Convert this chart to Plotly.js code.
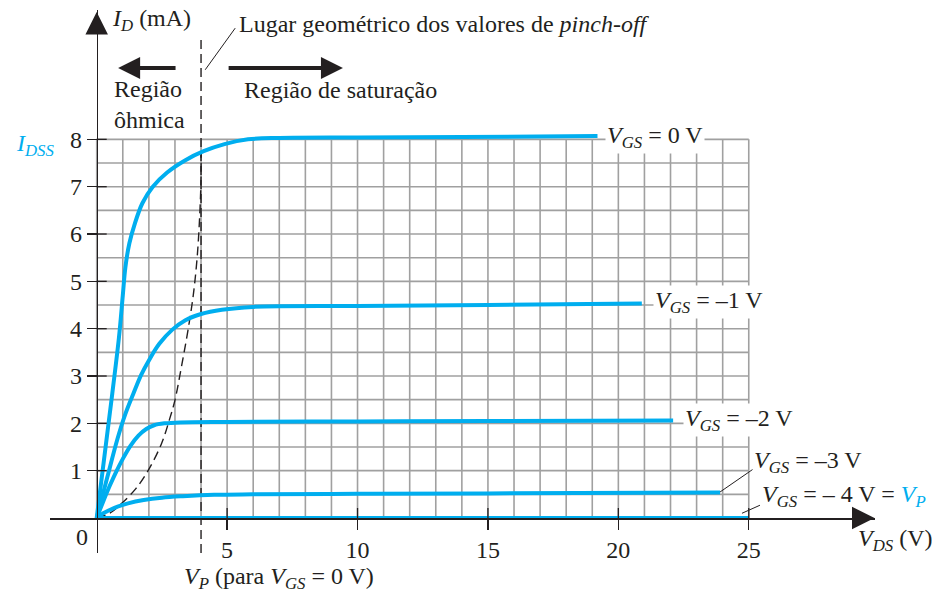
<!DOCTYPE html>
<html>
<head>
<meta charset="utf-8">
<script src="https://cdn.plot.ly/plotly-3.0.1.min.js"></script>
<style>html,body{margin:0;padding:0;background:#fff;}#chart{width:932px;height:593px;}</style>
</head>
<body>
<div id="chart"></div>
<script>
// ---- data ----
const vdsVgs0 = [0, 0.5, 0.85, 1.0, 1.1, 1.25, 1.45, 1.75, 2.15, 2.7, 3.4, 4.1, 4.9, 5.8, 7, 10, 14, 19.2];
const idVgs0  = [0, 2.2, 3.8, 4.7, 5.3, 5.8, 6.2, 6.65, 7.0, 7.3, 7.56, 7.75, 7.9, 8.0, 8.03, 8.04, 8.05, 8.07];

const vdsVgs1 = [0, 0.4, 0.8, 1.1, 1.4, 1.7, 2.0, 2.4, 2.9, 3.4, 4.0, 4.8, 6, 10, 15, 20.9];
const idVgs1  = [0, 0.85, 1.68, 2.2, 2.62, 3.02, 3.33, 3.68, 3.98, 4.18, 4.31, 4.4, 4.46, 4.48, 4.5, 4.53];

const vdsVgs2 = [0, 0.25, 0.5, 0.75, 1.0, 1.3, 1.6, 1.9, 2.2, 2.6, 3.2, 5, 10, 15, 22.1];
const idVgs2  = [0, 0.35, 0.68, 0.98, 1.25, 1.53, 1.74, 1.88, 1.96, 2.0, 2.02, 2.03, 2.04, 2.05, 2.06];

const vdsVgs3 = [0, 0.25, 0.5, 0.8, 1.2, 1.8, 2.5, 3.3, 4.5, 6, 10, 15, 23.9];
const idVgs3  = [0, 0.1, 0.17, 0.24, 0.31, 0.38, 0.43, 0.46, 0.49, 0.5, 0.51, 0.52, 0.54];

const vdsVgs4 = [0, 25];
const idVgs4  = [0, 0];

const vdsLocus = [0, 0.5, 0.96, 1.5, 1.98, 2.49, 2.8, 3.0, 3.25, 3.5, 3.7, 3.85, 3.95, 4.0, 4.0];
const idLocus  = [0, 0.1, 0.31, 0.62, 1.01, 1.58, 2.1, 2.49, 3.2, 3.97, 4.7, 5.5, 6.4, 7.2, 7.75];

const vpLineX = [4, 4];
const vpLineY = [-0.74, 10.14];

const xTickVals = [5, 10, 15, 20, 25];
const xTickText = ['5', '10', '15', '20', '25'];
const yTickVals = [1, 2, 3, 4, 5, 6, 7, 8];
const yTickText = ['1', '2', '3', '4', '5', '6', '7', '8'];

const gridXMax = 25, gridYMax = 8, gridXStep = 1, gridYStep = 0.5;

const curveLabels = [
  '<i>V</i><sub><i>GS</i></sub> = 0 V',
  '<i>V</i><sub><i>GS</i></sub> = –1 V',
  '<i>V</i><sub><i>GS</i></sub> = –2 V',
  '<i>V</i><sub><i>GS</i></sub> = –3 V',
  '<i>V</i><sub><i>GS</i></sub> = – 4 V = <span style="color:#00aeef"><i>V</i><sub><i>P</i></sub></span>'
];

// ---- styles ----
const BLUE = '#00aeef';
const INK = '#231f20';
const FONT = 'Liberation Serif, Times New Roman, serif';
const FS = 24;

// grid built from the grid spacing
const gx = [], gy = [];
for (let i = 0; i <= gridXMax; i += gridXStep) { gx.push(i, i, null); gy.push(0, gridYMax, null); }
for (let j = 0; j <= gridYMax + 1e-9; j += gridYStep) { gx.push(0, gridXMax, null); gy.push(j, j, null); }

const curve = (x, y) => ({x, y, type: 'scatter', mode: 'lines', line: {color: BLUE, width: 4, shape: 'spline', smoothing: 1}, hoverinfo: 'skip', cliponaxis: false});

const traces = [
  {x: gx, y: gy, type: 'scatter', mode: 'lines', line: {color: '#a0a0a0', width: 1.6}, hoverinfo: 'skip'},
  {x: vpLineX, y: vpLineY, type: 'scatter', mode: 'lines', line: {color: INK, width: 1.4, dash: '9px,5px'}, hoverinfo: 'skip'},
  {x: vdsLocus, y: idLocus, type: 'scatter', mode: 'lines', line: {color: INK, width: 1.4, dash: '9px,5px', shape: 'spline', smoothing: 1}, hoverinfo: 'skip'},
  curve(vdsVgs0, idVgs0),
  curve(vdsVgs1, idVgs1),
  curve(vdsVgs2, idVgs2),
  curve(vdsVgs3, idVgs3),
  curve(vdsVgs4, idVgs4)
];

const txt = (text, x, y, opts = {}) => Object.assign({
  text, x, y, xref: 'x', yref: 'y', showarrow: false, xanchor: 'left', yanchor: 'middle',
  font: {family: FONT, size: FS, color: INK}
}, opts);

const labelBg = {bgcolor: '#ffffff', borderpad: 1};

const annotations = [
  txt('<i>I</i><sub><i>D</i></sub> (mA)', 0.51, 10.52),
  txt('Lugar geométrico dos valores de <i>pinch-off</i>', 5.38, 10.44),
  txt('Região<br>ôhmica', 0.59, 8.73, {align: 'left'}),
  txt('Região de saturação', 5.57, 9.04),
  txt(curveLabels[0], 19.49, 8.05, labelBg),
  txt(curveLabels[1], 21.33, 4.56, labelBg),
  txt(curveLabels[2], 22.48, 2.07, labelBg),
  txt(curveLabels[3], 25.12, 1.18, labelBg),
  txt(curveLabels[4], 25.43, 0.46, labelBg),
  txt('<i>V</i><sub><i>DS</i></sub> (V)', 29.1, -0.47),
  txt('<i>V</i><sub><i>P</i></sub> (para <i>V</i><sub><i>GS</i></sub> = 0 V)', 182 / 932, 15 / 593, {xref: 'paper', yref: 'paper'}),
  txt('<i>I</i><sub><i>DSS</i></sub>', 14 / 932, 448 / 593, {xref: 'paper', yref: 'paper', font: {family: FONT, size: FS, color: BLUE}}),
  txt('0', -0.56, -0.40, {xanchor: 'center'}),
  // region arrows
  {x: 0.82, y: 9.508, ax: 3.08, ay: 9.508, xref: 'x', yref: 'y', axref: 'x', ayref: 'y', text: '', showarrow: true, arrowhead: 2, arrowsize: 1.1, arrowwidth: 4, arrowcolor: INK},
  {x: 9.44, y: 9.508, ax: 5.0, ay: 9.508, xref: 'x', yref: 'y', axref: 'x', ayref: 'y', text: '', showarrow: true, arrowhead: 2, arrowsize: 1.1, arrowwidth: 4, arrowcolor: INK},
  // axis arrowheads
  {x: 0, y: 10.69, ax: 0, ay: 16, xref: 'x', yref: 'y', text: '', showarrow: true, arrowhead: 2, arrowsize: 3, arrowwidth: 1.5, arrowcolor: INK},
  {x: 29.82, y: 0, ax: -16, ay: 0, xref: 'x', yref: 'y', text: '', showarrow: true, arrowhead: 2, arrowsize: 3, arrowwidth: 1.5, arrowcolor: INK}
];

const pxX = 26.08, pxY = 47.33;
const shapes = [];
xTickVals.forEach(v => shapes.push({type: 'line', xref: 'x', yref: 'y', x0: v, x1: v, y0: 0, y1: 10 / pxY, line: {color: INK, width: 1.3}, layer: 'above'}));
yTickVals.forEach(v => shapes.push({type: 'line', xref: 'x', yref: 'y', x0: 0, x1: 10 / pxX, y0: v, y1: v, line: {color: INK, width: 1.3}, layer: 'above'}));
// leader lines
shapes.push({type: 'line', xref: 'x', yref: 'y', x0: 4.16, y0: 9.47, x1: 5.31, y1: 10.35, line: {color: INK, width: 1}});
shapes.push({type: 'line', xref: 'x', yref: 'y', x0: 23.9, y0: 0.55, x1: 25.24, y1: 1.06, line: {color: INK, width: 1}});
shapes.push({type: 'line', xref: 'x', yref: 'y', x0: 24.74, y0: 0.1, x1: 25.43, y1: 0.27, line: {color: INK, width: 1}});

const layout = {
  width: 932, height: 593,
  margin: {l: 0, r: 0, t: 0, b: 0, pad: 0},
  paper_bgcolor: '#ffffff', plot_bgcolor: '#ffffff',
  showlegend: false,
  font: {family: FONT, size: FS, color: INK},
  xaxis: {
    domain: [50 / 932, 875 / 932], range: [-1.791, 29.84],
    anchor: 'free', position: 75 / 593,
    showgrid: false, zeroline: false, showline: true, linecolor: INK, linewidth: 1.5,
    tickmode: 'array', tickvals: xTickVals, ticktext: xTickText,
    ticks: 'outside', ticklen: 10, tickwidth: 1.3, tickcolor: INK,
    tickfont: {family: FONT, size: FS, color: INK}, fixedrange: true
  },
  yaxis: {
    domain: [40 / 593, 583 / 593], range: [-0.7395, 10.733],
    anchor: 'free', position: 96.7 / 932,
    showgrid: false, zeroline: false, showline: true, linecolor: INK, linewidth: 1.5,
    tickmode: 'array', tickvals: yTickVals, ticktext: yTickText,
    ticks: 'outside', ticklen: 10, tickwidth: 1.3, tickcolor: INK,
    tickfont: {family: FONT, size: FS, color: INK}, fixedrange: true
  },
  annotations, shapes
};

Plotly.newPlot('chart', traces, layout, {displayModeBar: false, staticPlot: true});
</script>
</body>
</html>
